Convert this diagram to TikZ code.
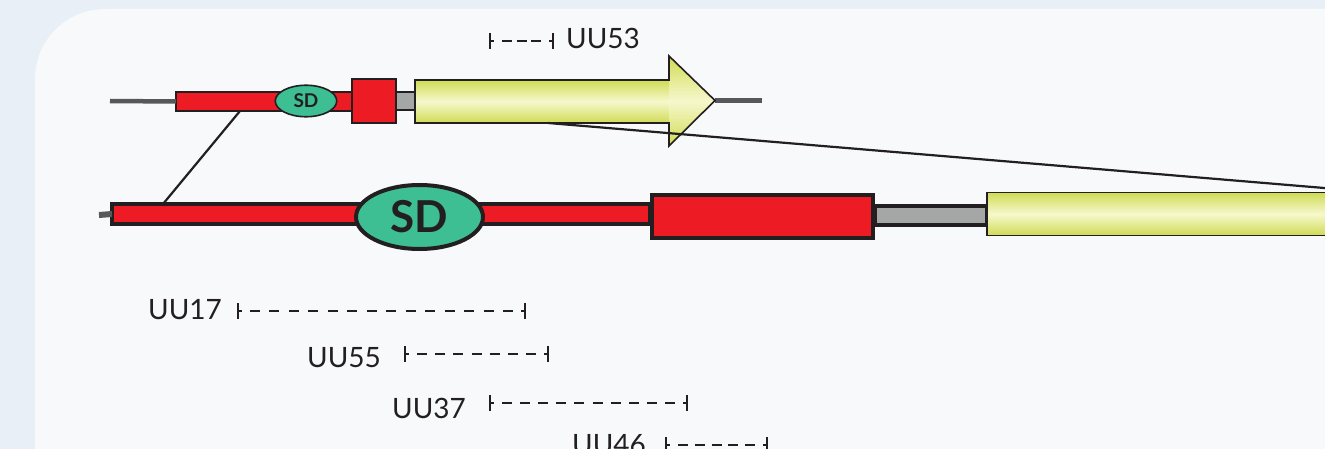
\documentclass[tikz,border=0pt]{standalone}
\usepackage{fontspec}
\setmainfont{Lato}
\usetikzlibrary{shapes.geometric}

\definecolor{bgout}{HTML}{E8EFF7}
\definecolor{bgpanel}{HTML}{F7F9FB}
\definecolor{ink}{HTML}{231F20}
\definecolor{gred}{HTML}{ED1C24}
\definecolor{sdgreen}{HTML}{3DBE93}
\definecolor{linkgray}{HTML}{A5A7A6}
\definecolor{wiregray}{HTML}{55595C}
\definecolor{cdsedge}{HTML}{D0DB55}
\definecolor{cdsmid}{HTML}{F6F8CC}

\tikzset{
  box/.style={draw=ink, rectangle, inner sep=0pt, outer sep=0pt},
  thinbox/.style={box, line width=1.6pt},
  thickbox/.style={box, line width=4pt},
  wire/.style={draw=wiregray, line width=4.5pt},
  zoomline/.style={draw=ink, line width=2.2pt},
  cds/.style={top color=cdsedge, bottom color=cdsedge, middle color=cdsmid},
  label/.style={text=ink, inner sep=0pt, anchor=base west, font=\fontsize{28}{30}\selectfont},
  spantick/.style={draw=ink, line width=2.2pt},
  spanline/.style={draw=ink, line width=2pt},
}

% interval marker: name, left x, right x, y, number of dashes
\newcommand\uuspan[5]{%
  \coordinate (#1-l) at (#2,#4);
  \coordinate (#1-r) at (#3,#4);
  \draw[spantick] (#2,#4-8) -- (#2,#4+8);
  \draw[spantick] (#3,#4-8) -- (#3,#4+8);
  \draw[spanline] (#1-l) -- (#2+4,#4);
  \draw[spanline] (#3-4,#4) -- (#1-r);
  \pgfmathsetmacro\uuper{(#3-#2-34)/(#5-1)}
  \foreach \k in {1,...,#5}{
    \draw[spanline] (#2+12+\uuper*\k-\uuper,#4) -- (#2+22+\uuper*\k-\uuper,#4);
  }%
}

\begin{document}
\begin{tikzpicture}[x=1pt,y=-1pt]
\useasboundingbox (0,0) rectangle (1325,449);
\clip (0,0) rectangle (1325,449);
\fill[bgout] (0,0) rectangle (1325,449);
\fill[bgpanel, rounded corners=70pt] (35,9) rectangle (1420,520);

% ---------- upper gene (overview) ----------
\coordinate (tw) at (110,101);
\coordinate (te) at (762,100.5);
\coordinate (tip) at (715,100.5);
\node[thinbox, fill=gred, minimum width=176pt, minimum height=19pt] (tred) at (264,101.5) {};
\draw[wire] (tw) -- (tred.west);
\node[thinbox, fill=linkgray, minimum width=19pt, minimum height=18pt] (tgray) at (405.5,101) {};
\node[thinbox, fill=gred, minimum width=44pt, minimum height=44pt] (tsq) at (374,101) {};
\node[thinbox, ellipse, fill=sdgreen, minimum width=61.5pt, minimum height=31.5pt,
      text=ink, font=\bfseries\fontsize{19}{19}\selectfont] (tsd) at (306,101) {SD};
\draw[wire] (tip) -- (te);
\shade[cds] (415,80) rectangle (669.5,123);
\shade[cds] (669,56) -- (tip) -- (669,146) -- cycle;
\draw[ink, line width=1.6pt, line join=miter]
  (415,80) -- (669,80) -- (669,56) -- (tip) -- (669,146) -- (669,123) -- (415,123) -- cycle;

% ---------- lower gene (detail) ----------
\coordinate (bw) at (99,215);
\node[thickbox, fill=gred, minimum width=538pt, minimum height=20pt] (bred) at (381,214) {};
\draw[wire, line width=6pt] (bw) -- (bred.west);
\node[thickbox, fill=linkgray, minimum width=112pt, minimum height=19pt] (bgray) at (931,215.5) {};
\node[thickbox, fill=gred, minimum width=221pt, minimum height=43pt] (bbox) at (762.5,216.5) {};
\node[thinbox, cds, minimum width=366pt, minimum height=43pt] (byel) at (1170,214) {};
\node[thickbox, ellipse, fill=sdgreen, minimum width=127pt, minimum height=64pt,
      text=ink, font=\bfseries\fontsize{44}{44}\selectfont] (bsd) at (419.5,217) {SD};

% ---------- zoom lines ----------
\coordinate (zl1) at (240,111);
\coordinate (zl2) at (163,204);
\coordinate (zr1) at (548,123);
\coordinate (zr2) at (1372,192);
\draw[zoomline] (zl1) -- (zl2);
\draw[zoomline] (zr1) -- (zr2);

% ---------- mapped fragments ----------
\uuspan{s53}{490}{553}{41}{3}
\node[label] (t53) at (566,49) {UU53};

\node[label] (t17) at (148,319) {UU17};
\uuspan{s17}{238}{525}{311}{14}

\node[label] (t55) at (307,367) {UU55};
\uuspan{s55}{405}{548}{354}{7}

\node[label] (t37) at (392,418) {UU37};
\uuspan{s37}{490}{687}{403}{10}

\node[label] (t46) at (572,454) {UU46};
\uuspan{s46}{666}{767}{445}{5}
\end{tikzpicture}
\end{document}
